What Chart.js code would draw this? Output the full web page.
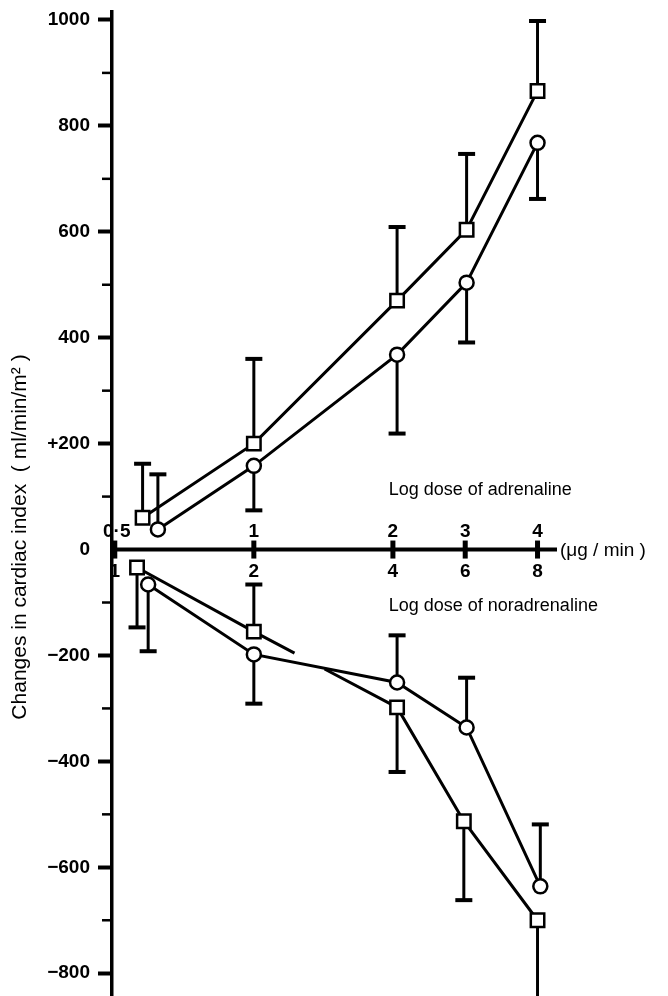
<!DOCTYPE html>
<html>
<head>
<meta charset="utf-8">
<script src="https://cdn.jsdelivr.net/npm/chart.js@4/dist/chart.umd.min.js"></script>
<style>
  html, body { margin: 0; padding: 0; background: #fff; }
  #wrap { width: 668px; height: 996px; position: relative; }
</style>
</head>
<body>
<div id="wrap"><canvas id="chart"></canvas></div>
<script>
// log-dose positions of the ticks on the cross axis
const tickPos = [-1, 0, 1, 1.52, 2.04];
const adrTickLabels = ['0·5', '1', '2', '3', '4'];
const norTickLabels = ['1', '2', '4', '6', '8'];

// adrenaline (upper half)
const adrSqX = [-0.80, 0, 1.03, 1.53, 2.04];
const adrSq = [60, 200, 470, 604, 866];
const adrSqErr = [162, 360, 609, 747, 998];
const adrCiX = [-0.69, 0, 1.03, 1.53, 2.04];
const adrCi = [38, 158, 368, 504, 768];
const adrCiErr = [142, 74, 219, 391, 662];

// noradrenaline (lower half)
const norSqX = [-0.84, 0, 1.03, 1.51, 2.04];
const norSq = [-34, -155, -298, -513, -700];
const norSqErr = [-147, -66, -420, -662, -900];
const norCiX = [-0.76, 0, 1.03, 1.53, 2.06];
const norCi = [-66, -198, -251, -336, -636];
const norCiErr = [-192, -291, -162, -242, -519];

const yLabels = {1000: '1000', 800: '800', 600: '600', 400: '400', 200: '+200', 0: '0',
  '-200': '−200', '-400': '−400', '-600': '−600', '-800': '−800'};

const FONT = "'Liberation Sans', Arial, sans-serif";

function pts(xs, ys) {
    return xs.map((x, i) => ({x: x, y: ys[i]}));
}

function series(xs, ys, style, extra) {
    return Object.assign({
        data: pts(xs, ys),
        borderColor: '#000',
        borderWidth: 3,
        pointStyle: style,
        pointRadius: style === 'rect' ? 9.5 : 7,
        pointBackgroundColor: '#fff',
        pointBorderColor: '#000',
        pointBorderWidth: 2.5,
        tension: 0,
        fill: false
    }, extra || {});
}

const errorBars = [
    [adrSqX, adrSq, adrSqErr], [adrCiX, adrCi, adrCiErr],
    [norSqX, norSq, norSqErr], [norCiX, norCi, norCiErr]
];

const decor = {
    id: 'decor',
    beforeDatasetsDraw(chart) {
        const ctx = chart.ctx;
        const xs = chart.scales.x, ys = chart.scales.y;
        const area = chart.chartArea;
        const y0 = ys.getPixelForValue(0);
        ctx.save();
        ctx.strokeStyle = '#000';
        ctx.fillStyle = '#000';

        // minor ticks on the y axis
        ys.ticks.forEach(t => {
            const v = t.value + 100;
            if (v < ys.max) {
                const py = ys.getPixelForValue(v);
                ctx.fillRect(area.left - 10, py - 1.25, 10, 2.5);
            }
        });

        // cross axis at zero
        ctx.lineWidth = 4;
        ctx.beginPath();
        ctx.moveTo(area.left, y0);
        ctx.lineTo(area.right, y0);
        ctx.stroke();
        tickPos.forEach((p, i) => {
            const px = xs.getPixelForValue(p);
            ctx.fillRect(px - 2.5, y0 - 9, 5, 18);
            ctx.font = 'bold 19px ' + FONT;
            ctx.textAlign = 'center';
            ctx.textBaseline = 'alphabetic';
            ctx.fillText(adrTickLabels[i], px + (i === 0 ? 2 : 0), y0 - 13);
            ctx.textBaseline = 'top';
            ctx.fillText(norTickLabels[i], px, y0 + 13);
        });
        ctx.font = '19px ' + FONT;
        ctx.textAlign = 'left';
        ctx.textBaseline = 'middle';
        ctx.fillText('(μg / min )', area.right + 3, y0 + 1);
        ctx.font = '18px ' + FONT;
        ctx.fillText('Log dose of adrenaline', xs.getPixelForValue(0.97), y0 - 60);
        ctx.fillText('Log dose of noradrenaline', xs.getPixelForValue(0.97), y0 + 56);

        // y axis title
        ctx.save();
        ctx.translate(20, 537);
        ctx.rotate(-Math.PI / 2);
        ctx.font = '21px ' + FONT;
        ctx.textAlign = 'center';
        ctx.textBaseline = 'middle';
        ctx.fillText('Changes in cardiac index  ( ml/min/m² )', 0, 0);
        ctx.restore();

        // one-sided error bars
        ctx.lineWidth = 3;
        errorBars.forEach(([xv, yv, ev]) => {
            xv.forEach((x, i) => {
                const px = xs.getPixelForValue(x);
                const py = ys.getPixelForValue(yv[i]);
                const pe = ys.getPixelForValue(ev[i]);
                ctx.beginPath();
                ctx.moveTo(px, py);
                ctx.lineTo(px, pe);
                ctx.stroke();
                ctx.fillRect(px - 8.5, pe - 2, 17, 4);
            });
        });
        ctx.restore();
    }
};

new Chart(document.getElementById('chart'), {
    type: 'line',
    data: {
        datasets: [
            series(adrSqX, adrSq, 'rect'),
            series(adrCiX, adrCi, 'circle'),
            series(norSqX, norSq, 'rect', {
                segment: { borderDash: c => c.p0DataIndex === 1 ? [46, 34, 600] : undefined }
            }),
            series(norCiX, norCi, 'circle')
        ]
    },
    options: {
        responsive: true,
        maintainAspectRatio: false,
        animation: false,
        layout: { autoPadding: false, padding: { top: 12, right: 111, bottom: 0, left: 0 } },
        plugins: { legend: { display: false }, tooltip: { enabled: false } },
        scales: {
            x: { type: 'linear', min: -1.02, max: 2.18, display: false },
            y: {
                type: 'linear',
                min: -843,
                max: 1015,
                afterFit: s => { s.width = 112; s.paddingTop = 0; s.paddingBottom = 0; },
                border: { display: true, color: '#000', width: 3.5 },
                grid: {
                    drawOnChartArea: false,
                    drawTicks: true,
                    tickLength: 14,
                    tickColor: '#000',
                    tickWidth: c => c.tick && c.tick.value === 0 ? 0 : 4
                },
                ticks: {
                    stepSize: 200,
                    includeBounds: false,
                    padding: 8,
                    color: '#000',
                    font: { family: FONT, size: 19, weight: 'bold' },
                    callback: v => yLabels[v] !== undefined ? yLabels[v] : ''
                }
            }
        }
    },
    plugins: [decor]
});
</script>
</body>
</html>
